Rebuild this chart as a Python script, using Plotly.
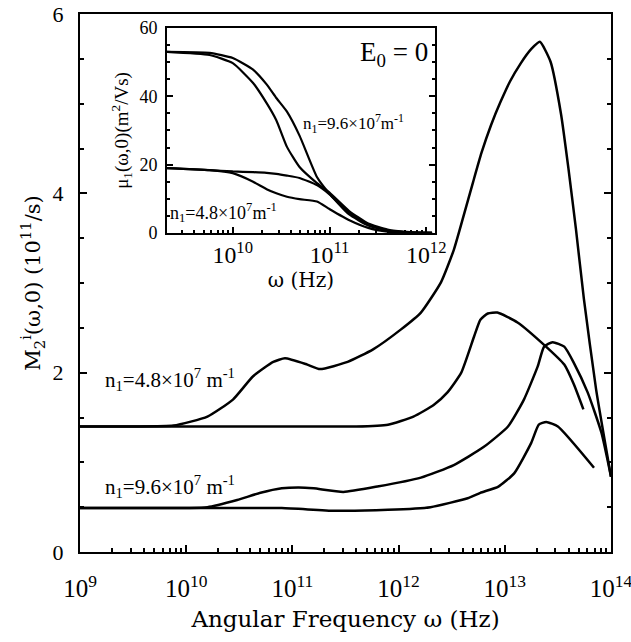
import numpy as np
import plotly.graph_objects as go

SERIF = "Liberation Serif"
WIDE = "DejaVu Serif"

# main panel: log10(omega) and M2^i(omega,0) in 1e11/s
a_lx = [9.0, 9.5, 9.88, 10.2, 10.44, 10.63, 10.82, 10.93, 11.14, 11.26, 11.52, 11.76,
        12.02, 12.21, 12.4, 12.52, 12.61, 12.7, 12.78, 12.87, 12.96, 13.05, 13.15, 13.25,
        13.33, 13.43, 13.53, 13.6, 13.67, 13.745, 13.86, 14.0]
a_y = [1.40, 1.40, 1.41, 1.51, 1.70, 1.96, 2.12, 2.16, 2.09, 2.04, 2.12, 2.26,
       2.48, 2.67, 3.01, 3.37, 3.74, 4.12, 4.45, 4.76, 5.02, 5.25, 5.45, 5.61,
       5.69, 5.47, 4.88, 4.27, 3.60, 2.82, 1.81, 0.84]

b_lx = [9.0, 10.0, 11.0, 11.6, 11.9, 12.14, 12.33, 12.46, 12.59, 12.71, 12.77, 12.84,
        12.93, 13.12, 13.37, 13.56, 13.65, 13.74]
b_y = [1.40, 1.40, 1.40, 1.40, 1.42, 1.51, 1.64, 1.78, 2.00, 2.40, 2.59, 2.66,
       2.67, 2.56, 2.31, 2.09, 1.87, 1.59]

c_lx = [9.0, 9.5, 10.2, 10.48, 10.7, 10.9, 11.06, 11.2, 11.48, 11.8, 12.21, 12.52,
        12.8, 13.03, 13.18, 13.31, 13.37, 13.45, 13.56, 13.65, 13.78, 13.91, 14.0]
c_y = [0.49, 0.49, 0.50, 0.58, 0.66, 0.71, 0.72, 0.71, 0.67, 0.73, 0.83, 0.97,
       1.17, 1.40, 1.70, 2.07, 2.29, 2.34, 2.29, 2.11, 1.78, 1.33, 0.84]

d_lx = [9.0, 10.0, 10.9, 11.4, 11.9, 12.3, 12.65, 12.77, 12.94, 13.09, 13.25, 13.32,
        13.39, 13.5, 13.84]
d_y = [0.49, 0.49, 0.49, 0.46, 0.47, 0.50, 0.60, 0.66, 0.73, 0.88, 1.22, 1.42,
       1.45, 1.40, 0.94]

# inset: log10(omega) and mu1(omega,0) in m^2/Vs
i_lx = [9.32, 9.76, 10.0, 10.21, 10.35, 10.45, 10.56, 10.69, 10.87, 11.0, 11.2, 11.4,
        11.6, 11.8, 12.06]
mu_96a = [53.0, 52.7, 51.2, 47.8, 43.5, 39.5, 35.5, 28.5, 16.4, 11.5, 5.5, 2.2,
          0.7, 0.2, 0.0]
mu_96b = [53.0, 52.1, 49.7, 43.9, 38.0, 33.0, 25.2, 19.3, 14.6, 11.8, 6.5, 2.8,
          1.0, 0.3, 0.0]
mu_48a = [19.0, 18.4, 18.0, 17.8, 17.6, 17.3, 16.8, 16.1, 14.0, 11.3, 6.0, 2.5,
          0.8, 0.2, 0.0]
mu_48b = [19.0, 18.4, 17.5, 15.0, 12.8, 11.6, 10.6, 9.9, 9.2, 7.0, 3.8, 1.5,
          0.4, 0.1, 0.0]

main_curves = [(a_lx, a_y), (b_lx, b_y), (c_lx, c_y), (d_lx, d_y)]
inset_curves = [mu_96a, mu_96b, mu_48a, mu_48b]

fig = go.Figure()

for lx, y in main_curves:
    fig.add_trace(go.Scatter(
        x=np.power(10.0, lx), y=y, mode="lines", showlegend=False,
        line=dict(color="black", width=2.5, shape="spline", smoothing=0.5),
    ))

for mu in inset_curves:
    fig.add_trace(go.Scatter(
        x=np.power(10.0, i_lx), y=mu, mode="lines", showlegend=False,
        xaxis="x2", yaxis="y2",
        line=dict(color="black", width=2.2, shape="spline", smoothing=0.5),
    ))

axis_common = dict(
    showline=True, linewidth=2, linecolor="black", showgrid=False, zeroline=False,
    ticks="inside", tickcolor="black", tickwidth=1.5, automargin=False,
    ticklabeloverflow="allow",
)

fig.update_layout(
    width=631, height=642,
    margin=dict(l=80, r=20, t=14, b=90),
    plot_bgcolor="white", paper_bgcolor="white",
    font=dict(family=SERIF, color="black"),
    xaxis=dict(
        **axis_common, type="log", range=[9, 14], dtick=1, exponentformat="power",
        mirror=True, ticklen=7,
        minor=dict(ticks="inside", ticklen=4, tickcolor="black", dtick="D1"),
        tickfont=dict(family=SERIF, size=20), ticklabelstandoff=14,
        title=dict(text="Angular Frequency ω (Hz)", font=dict(family=WIDE, size=23),
                   standoff=10),
    ),
    yaxis=dict(
        **axis_common, range=[0, 6], dtick=2, mirror="ticks", ticklen=7,
        minor=dict(ticks="inside", ticklen=4, tickcolor="black", dtick=0.5),
        tickfont=dict(family=SERIF, size=22), ticklabelstandoff=10,
        title=dict(text="M<sub>2</sub><sup>i</sup>(ω,0) (10<sup>11</sup>/s)",
                   font=dict(family=WIDE, size=21), standoff=6),
    ),
    xaxis2=dict(
        **axis_common, type="log", range=[9.32, 12.09], dtick=1, exponentformat="power",
        domain=[0.1638, 0.6685], anchor="y2", mirror=True, ticklen=6,
        minor=dict(ticks="inside", ticklen=3, tickcolor="black", dtick="D1"),
        tickfont=dict(family=SERIF, size=19), ticklabelstandoff=0,
        title=dict(text="ω (Hz)", font=dict(family=WIDE, size=20), standoff=2),
    ),
    yaxis2=dict(
        **axis_common, range=[0, 60], dtick=20, domain=[0.593, 0.974], anchor="x2",
        mirror="ticks", ticklen=6,
        minor=dict(ticks="inside", ticklen=3, tickcolor="black", dtick=5),
        tickfont=dict(family=SERIF, size=18), ticklabelstandoff=4,
        title=dict(text="μ<sub>1</sub>(ω,0)(m<sup>2</sup>/Vs)",
                   font=dict(family=SERIF, size=19), standoff=6),
    ),
)

fig.add_annotation(x=9.217, y=1.92, xref="x", yref="y", xanchor="left", showarrow=False,
                   text="n<sub>1</sub>=4.8×10<sup>7</sup> m<sup>-1</sup>",
                   font=dict(family=SERIF, size=21))
fig.add_annotation(x=9.217, y=0.73, xref="x", yref="y", xanchor="left", showarrow=False,
                   text="n<sub>1</sub>=9.6×10<sup>7</sup> m<sup>-1</sup>",
                   font=dict(family=SERIF, size=21))
fig.add_annotation(x=12.04, y=52.4, xref="x2", yref="y2", xanchor="right", showarrow=False,
                   text="E<sub>0</sub> = 0", font=dict(family=SERIF, size=27))
fig.add_annotation(x=10.71, y=31.9, xref="x2", yref="y2", xanchor="left", showarrow=False,
                   text="n<sub>1</sub>=9.6×10<sup>7</sup>m<sup>-1</sup>",
                   font=dict(family=SERIF, size=17))
fig.add_annotation(x=9.33, y=5.85, xref="x2", yref="y2", xanchor="left", showarrow=False,
                   text="n<sub>1</sub>=4.8×10<sup>7</sup>m<sup>-1</sup>",
                   font=dict(family=SERIF, size=18))

# drop the default 8px page margin so the 631x642 figure fills the window exactly
fig.write_html(
    "out.html",
    config={"displayModeBar": False},
    post_script="document.body.style.margin='0';document.body.style.overflow='hidden';",
)
